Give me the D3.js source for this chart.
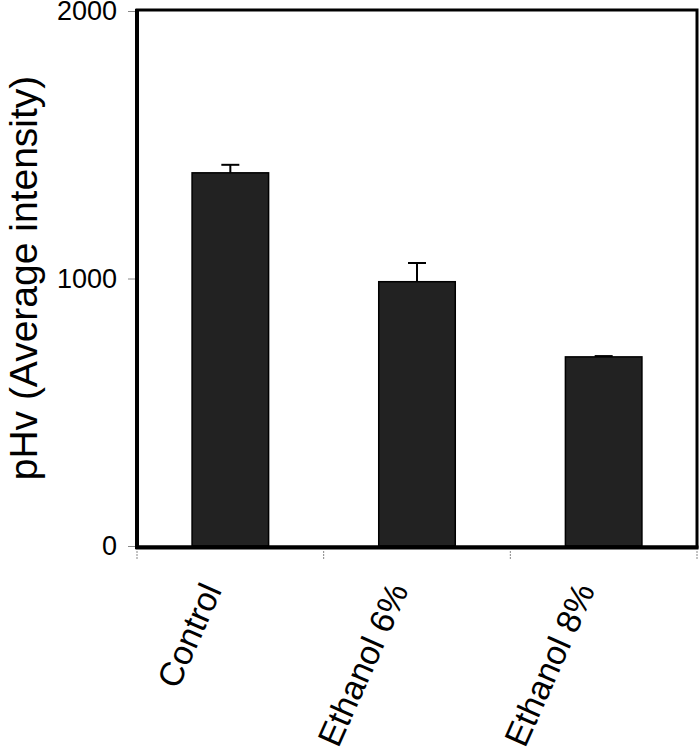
<!DOCTYPE html>
<html>
<head>
<meta charset="utf-8">
<script src="https://cdn.jsdelivr.net/npm/d3@7"></script>
<style>
  body { margin: 0; background: #fff; }
  text { font-family: "Liberation Sans", Arial, sans-serif; fill: #000; }
</style>
</head>
<body>
<svg width="700" height="754"></svg>
<script>
// chart data
var groups = ["Control", "Ethanol 6%", "Ethanol 8%"];
var means = [1395, 988, 707];
var errors = [30, 70, 3];
var yTicks = [0, 1000, 2000];

var plotL = 137, plotR = 697, plotT = 11, plotB = 546;

var svg = d3.select("svg");

var x = d3.scaleBand().domain(groups).range([plotL, plotR]);
var y = d3.scaleLinear().domain([0, 2000]).range([plotB, plotT]);
var barW = x.bandwidth() * 0.41;

// bars
svg.append("g").selectAll("rect")
  .data(groups).enter()
  .append("rect")
  .attr("x", function(d) { return x(d) + x.bandwidth() / 2 - barW / 2; })
  .attr("y", function(d, i) { return y(means[i]); })
  .attr("width", barW)
  .attr("height", function(d, i) { return y(0) - y(means[i]); })
  .attr("fill", "#222")
  .attr("stroke", "#000")
  .attr("stroke-width", 1.5);

// error bars (upper only)
var eb = svg.append("g").attr("stroke", "#000").attr("stroke-width", 2);
groups.forEach(function(d, i) {
  var cx = x(d) + x.bandwidth() / 2;
  eb.append("line").attr("x1", cx).attr("x2", cx)
    .attr("y1", y(means[i])).attr("y2", y(means[i] + errors[i]));
  eb.append("line").attr("x1", cx - 9).attr("x2", cx + 9)
    .attr("y1", y(means[i] + errors[i])).attr("y2", y(means[i] + errors[i]));
});

// y axis ticks + labels
var yAxis = svg.append("g").attr("transform", "translate(" + plotL + ",0)")
  .call(d3.axisLeft(y).tickValues(yTicks).tickSize(9).tickPadding(11).tickFormat(d3.format("d")));
yAxis.select(".domain").remove();
yAxis.selectAll(".tick line").attr("stroke", "#888").attr("stroke-width", 1);
yAxis.selectAll(".tick text").style("font-size", "27px").style("font-family", "Liberation Sans, Arial, sans-serif");

// x axis ticks at band edges
var edges = groups.map(function(d) { return x(d); }).concat([plotR]);
svg.append("g").selectAll("line").data(edges).enter()
  .append("line")
  .attr("x1", function(d) { return d; }).attr("x2", function(d) { return d; })
  .attr("y1", plotB + 5).attr("y2", plotB + 13)
  .attr("stroke", "#888").attr("stroke-dasharray", "2,1");

// x labels, rotated
svg.append("g").selectAll("text").data(groups).enter()
  .append("text")
  .attr("transform", function(d) {
    return "translate(" + (x(d) + x.bandwidth() / 2 - 8) + "," + 590 + ") rotate(-66)";
  })
  .attr("text-anchor", "end")
  .style("font-size", "34px")
  .text(function(d) { return d; });

// frame
svg.append("rect")
  .attr("x", plotL).attr("y", plotT - 1)
  .attr("width", plotR - plotL).attr("height", plotB - plotT + 2)
  .attr("fill", "none").attr("stroke", "#000").attr("stroke-width", 3);
svg.append("line").attr("x1", plotL - 1.5).attr("x2", plotR + 1.5)
  .attr("y1", plotB + 1.5).attr("y2", plotB + 1.5)
  .attr("stroke", "#000").attr("stroke-width", 4);
svg.append("line").attr("x1", plotL).attr("x2", plotL)
  .attr("y1", plotT - 2).attr("y2", plotB + 3)
  .attr("stroke", "#000").attr("stroke-width", 4);

// y title
svg.append("text")
  .attr("transform", "translate(37," + 278 + ") rotate(-90)")
  .attr("text-anchor", "middle")
  .style("font-size", "39px")
  .text("pHv (Average intensity)");
</script>
</body>
</html>
